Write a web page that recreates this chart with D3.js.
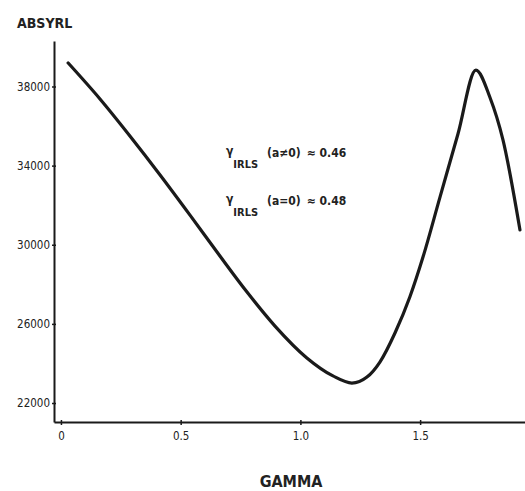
<!DOCTYPE html>
<html>
<head>
<meta charset="utf-8">
<script src="https://cdn.jsdelivr.net/npm/d3@7"></script>
<style>
  body { margin: 0; background: #fff; }
  text { font-family: "DejaVu Sans Condensed", "DejaVu Sans", sans-serif; fill: #222; }
</style>
</head>
<body>
<svg id="chart" width="525" height="491"></svg>
<script>
// values
var gamma  = [0.03, 0.163, 0.288, 0.414, 0.539, 0.664, 0.777, 0.894, 1.027, 1.136, 1.215, 1.278, 1.332, 1.395, 1.457, 1.512, 1.583, 1.658, 1.733, 1.791, 1.846, 1.917];
var absyrl = [39190, 37370, 35500, 33530, 31500, 29430, 27610, 25890, 24280, 23370, 23010, 23310, 24070, 25540, 27360, 29380, 32410, 35600, 38830, 37470, 35300, 30750];
var xTicks = [0, 0.5, 1.0, 1.5];
var xTickLabels = ["0", "0.5", "1.0", "1.5"];
var yTicks = [22000, 26000, 30000, 34000, 38000];
var notes = [
  { cond: "(a\u22600)", value: "0.46" },
  { cond: "(a=0)", value: "0.48" }
];

var svg = d3.select("#chart");

var x = d3.scaleLinear().domain([-0.029, 1.938]).range([54, 525]);
var y = d3.scaleLinear().domain([21040, 40300]).range([422, 41]);

var data = gamma.map(function(g, i){ return [g, absyrl[i]]; });

var xAxis = d3.axisBottom(x).tickValues(xTicks)
  .tickFormat(function(d, i){ return xTickLabels[i]; })
  .tickSizeInner(3).tickSizeOuter(0).tickPadding(7);
var yAxis = d3.axisLeft(y).tickValues(yTicks)
  .tickFormat(d3.format("d"))
  .tickSizeInner(2).tickSizeOuter(0).tickPadding(2);

var gx = svg.append("g").attr("transform", "translate(0,422)").call(xAxis);
var gy = svg.append("g").attr("transform", "translate(54,0)").call(yAxis);

[gx, gy].forEach(function(g){
  g.select(".domain").attr("stroke", "#1a1a1a").attr("stroke-width", 2);
  g.selectAll(".tick line").attr("stroke", "#1a1a1a").attr("stroke-width", 1.5);
  g.selectAll(".tick text").style("font-size", "11.5px").attr("fill", "#222");
});
// ticks cross the axis line
gx.selectAll(".tick line").attr("y1", -2);
gy.selectAll(".tick line").attr("x1", 2);

var line = d3.line().x(d => x(d[0])).y(d => y(d[1])).curve(d3.curveMonotoneX);

svg.append("path").datum(data)
  .attr("fill", "none")
  .attr("stroke", "#1a1a1a")
  .attr("stroke-width", 3.2)
  .attr("stroke-linecap", "round")
  .attr("d", line);

svg.append("text").attr("x", 17).attr("y", 28).text("ABSYRL")
  .style("font-size", "14px").style("font-weight", "bold");
svg.append("text").attr("x", 291).attr("y", 487).attr("text-anchor", "middle").text("GAMMA")
  .style("font-size", "16px").style("font-weight", "bold");

notes.forEach(function(n, i){
  var yb = 157 + i * 48;
  var t = svg.append("text").attr("x", 226).attr("y", yb)
    .style("font-size", "12px").style("font-weight", "bold");
  t.append("tspan").text("\u03b3").attr("dy", -2);
  t.append("tspan").text("IRLS").attr("dy", 13).style("font-size", "11px");
  t.append("tspan").text(n.cond).attr("x", 267).attr("y", yb);
  t.append("tspan").text("\u2248 " + n.value).attr("dx", 6);
});
</script>
</body>
</html>
